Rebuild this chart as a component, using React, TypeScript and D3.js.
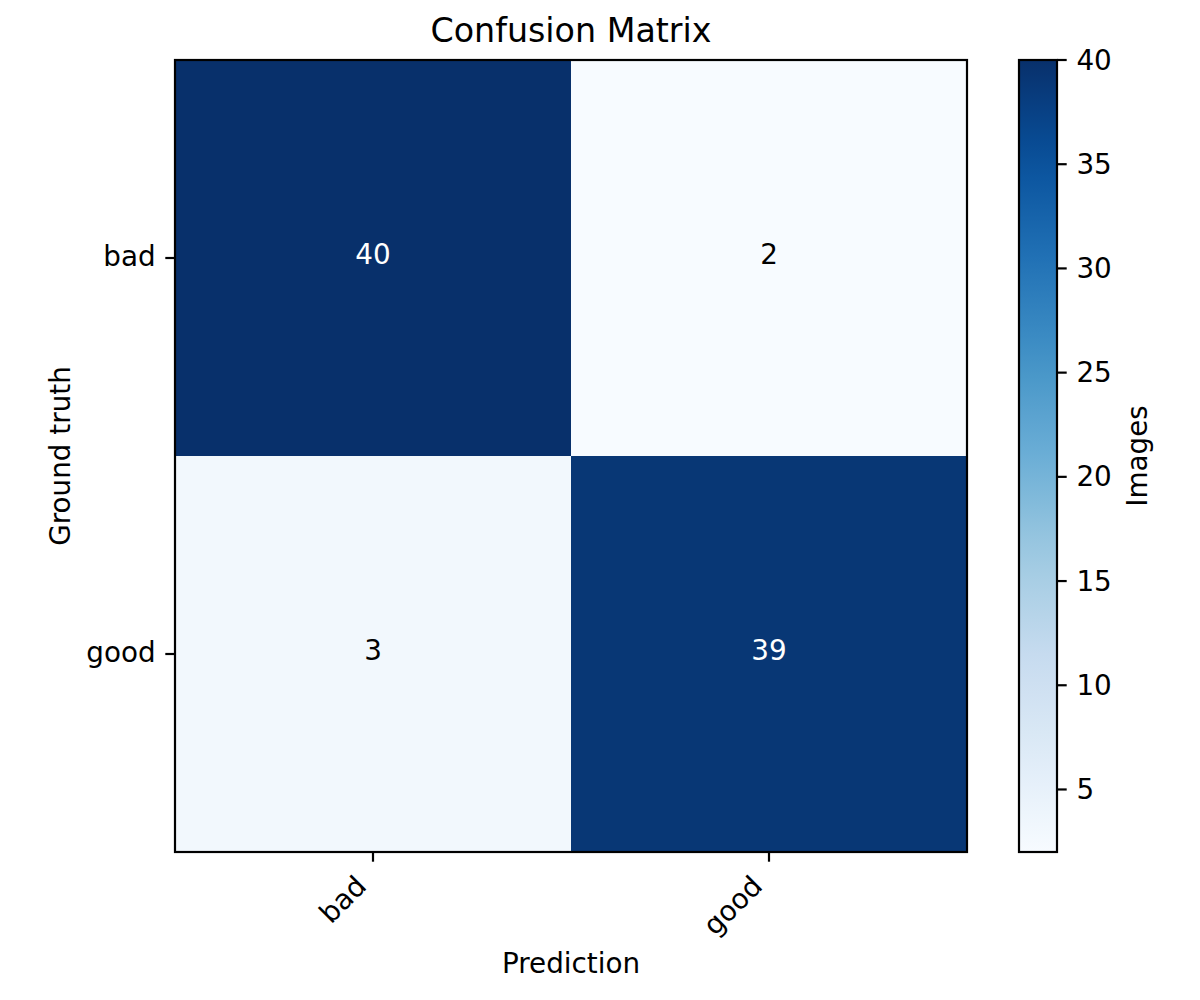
import React from "react"
import * as d3 from "d3"

const categories = ["bad", "good"]
// rows = ground truth, columns = prediction
const truthBad = [40, 2]
const truthGood = [3, 39]
const counts = [truthBad, truthGood]
const colorbarTicks = [5, 10, 15, 20, 25, 30, 35, 40]

const TITLE = "Confusion Matrix"
const X_LABEL = "Prediction"
const Y_LABEL = "Ground truth"
const CBAR_LABEL = "Images"

// matplotlib "Blues"
const BLUES = ["#f7fbff", "#deebf7", "#c6dbef", "#9ecae1", "#6baed6", "#4292c6", "#2171b5", "#08519c", "#08306b"]

const W = 1200
const H = 1000
const PLOT = { left: 175, top: 60, right: 967, bottom: 852 }
const CBAR = { left: 1019, right: 1057 }
const FONT = "'DejaVu Sans', sans-serif"
const FS = 27.8
const TICK = 9.7
const PAD = 9.7
const LW = 2.2

export default function App() {
  const flat = counts.flat()
  const vmin = d3.min(flat) ?? 0
  const vmax = d3.max(flat) ?? 1

  const x = d3.scaleBand<string>().domain(categories).range([PLOT.left, PLOT.right])
  const y = d3.scaleBand<string>().domain(categories).range([PLOT.top, PLOT.bottom])

  const color = d3
    .scaleLinear<string>()
    .domain(BLUES.map((_, i) => vmin + ((vmax - vmin) * i) / (BLUES.length - 1)))
    .range(BLUES)
    .interpolate(d3.interpolateRgb)

  const cbarY = d3.scaleLinear().domain([vmin, vmax]).range([PLOT.bottom, PLOT.top])
  const thresh = vmax / 2

  const gradStops = d3.range(0, 1.0001, 0.05)

  const cx = (PLOT.left + PLOT.right) / 2
  const cy = (PLOT.top + PLOT.bottom) / 2

  return (
    <div style={{ position: "absolute", left: 0, top: 0 }}>
      <svg width={W} height={H} style={{ display: "block", background: "#fff" }} fontFamily={FONT}>
        <defs>
          <linearGradient id="cbar" x1="0" y1="1" x2="0" y2="0">
            {gradStops.map((t) => (
              <stop key={t} offset={t} stopColor={color(vmin + t * (vmax - vmin))} />
            ))}
          </linearGradient>
        </defs>

        {/* Title */}
        <text x={cx} y={42} textAnchor="middle" fontSize={33.3} fill="#000">
          {TITLE}
        </text>

        {/* Cells */}
        {counts.map((row, ri) =>
          row.map((v, ci) => (
            <rect
              key={`c-${ri}-${ci}`}
              x={x(categories[ci])}
              y={y(categories[ri])}
              width={x.bandwidth()}
              height={y.bandwidth()}
              fill={color(v)}
            />
          ))
        )}

        {/* Cell values */}
        {counts.map((row, ri) =>
          row.map((v, ci) => (
            <text
              key={`t-${ri}-${ci}`}
              x={(x(categories[ci]) ?? 0) + x.bandwidth() / 2}
              y={(y(categories[ri]) ?? 0) + y.bandwidth() / 2}
              dy={6.3}
              textAnchor="middle"
              fontSize={FS}
              fill={v > thresh ? "#fff" : "#000"}
            >
              {v}
            </text>
          ))
        )}

        {/* Frame */}
        <rect
          x={PLOT.left}
          y={PLOT.top}
          width={PLOT.right - PLOT.left}
          height={PLOT.bottom - PLOT.top}
          fill="none"
          stroke="#000"
          strokeWidth={LW}
        />

        {/* Y ticks */}
        {categories.map((c) => {
          const ty = (y(c) ?? 0) + y.bandwidth() / 2
          return (
            <g key={`y-${c}`}>
              <line x1={PLOT.left - TICK} x2={PLOT.left} y1={ty} y2={ty} stroke="#000" strokeWidth={LW} />
              <text x={PLOT.left - TICK - PAD} y={ty} dy={7.5} textAnchor="end" fontSize={FS} fill="#000">
                {c}
              </text>
            </g>
          )
        })}

        {/* X ticks */}
        {categories.map((c) => {
          const tx = (x(c) ?? 0) + x.bandwidth() / 2
          return (
            <g key={`x-${c}`}>
              <line x1={tx} x2={tx} y1={PLOT.bottom} y2={PLOT.bottom + TICK} stroke="#000" strokeWidth={LW} />
              <text
                transform={`translate(${tx - 5},${PLOT.bottom + TICK + 26}) rotate(-45)`}
                textAnchor="end"
                fontSize={FS}
                fill="#000"
              >
                {c}
              </text>
            </g>
          )
        })}

        {/* Axis labels */}
        <text x={cx} y={973} textAnchor="middle" fontSize={FS} fill="#000">
          {X_LABEL}
        </text>
        <text transform={`translate(70,${cy}) rotate(-90)`} textAnchor="middle" fontSize={FS} fill="#000">
          {Y_LABEL}
        </text>

        {/* Colorbar */}
        <rect
          x={CBAR.left}
          y={PLOT.top}
          width={CBAR.right - CBAR.left}
          height={PLOT.bottom - PLOT.top}
          fill="url(#cbar)"
          stroke="#000"
          strokeWidth={LW}
        />
        {colorbarTicks.map((t) => (
          <g key={`cb-${t}`}>
            <line x1={CBAR.right} x2={CBAR.right + TICK} y1={cbarY(t)} y2={cbarY(t)} stroke="#000" strokeWidth={LW} />
            <text x={CBAR.right + TICK + PAD} y={cbarY(t)} dy={9.5} fontSize={FS} fill="#000">
              {t}
            </text>
          </g>
        ))}
        <text transform={`translate(1147,${cy}) rotate(-90)`} textAnchor="middle" fontSize={FS} fill="#000">
          {CBAR_LABEL}
        </text>
      </svg>
    </div>
  )
}
